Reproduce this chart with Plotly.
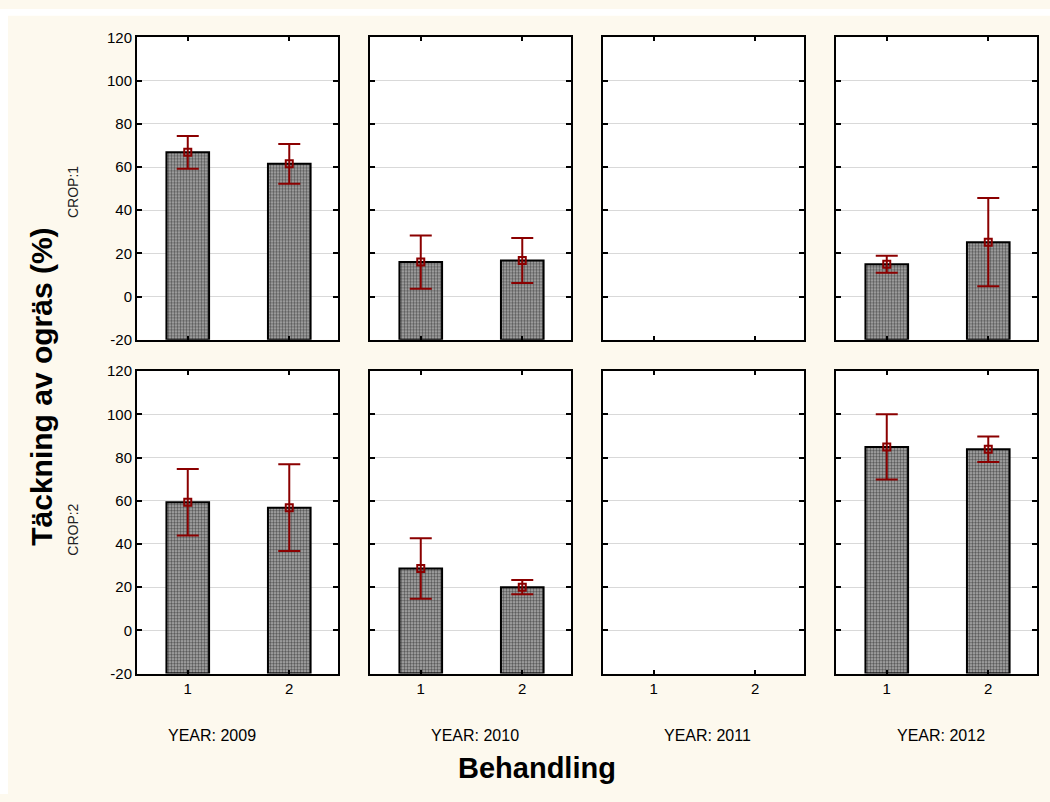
import plotly.graph_objects as go

# ---- data ----
years = ["2009", "2010", "2011", "2012"]
treatments = [1, 2]
tick_labels = ["1", "2"]
y_ticks = [-20, 0, 20, 40, 60, 80, 100, 120]
y_tick_labels = ["-20", "0", "20", "40", "60", "80", "100", "120"]
crop_labels = ["CROP:1", "CROP:2"]

crop1_means = [[66.8, 61.5], [16.0, 16.7], [], [15.0, 25.2]]
crop1_errs = [[7.6, 9.2], [12.3, 10.4], [], [3.9, 20.4]]
crop2_means = [[59.3, 56.8], [28.7, 20.0], [], [84.9, 83.8]]
crop2_errs = [[15.4, 20.1], [14.0, 3.3], [], [15.1, 5.9]]

Y_MIN, Y_MAX = -20, 120

W, H = 1050, 802
col_px = [(137, 338), (370, 571), (603, 804), (836, 1037)]
row_px = [(29, 338), (370, 679)]
year_label_x = [212, 475, 707, 941]

ERR_COLOR = "#8B0000"
FONT = "Liberation Sans, Arial, Helvetica, sans-serif"

fig = go.Figure()

means_rows = [crop1_means, crop2_means]
errs_rows = [crop1_errs, crop2_errs]

idx = 0
for r in range(2):
    for c in range(4):
        idx += 1
        xa = "x" if idx == 1 else f"x{idx}"
        ya = "y" if idx == 1 else f"y{idx}"
        means = means_rows[r][c]
        errs = errs_rows[r][c]
        if means:
            fig.add_trace(go.Bar(
                x=treatments, y=[m - Y_MIN for m in means], base=Y_MIN,
                width=0.42,
                marker=dict(color="#9a9a9a",
                            line=dict(color="black", width=2),
                            pattern=dict(shape=".", fgcolor="black", bgcolor="#b0b0b0",
                                         size=3, solidity=0.5)),
                xaxis=xa, yaxis=ya, showlegend=False, hoverinfo="skip"))
            fig.add_trace(go.Scatter(
                x=treatments, y=means, mode="markers",
                marker=dict(symbol="square-open", size=7, color=ERR_COLOR,
                            line=dict(width=2, color=ERR_COLOR)),
                error_y=dict(type="data", array=errs, visible=True,
                             color=ERR_COLOR, thickness=2, width=11),
                xaxis=xa, yaxis=ya, showlegend=False, hoverinfo="skip"))
        else:
            fig.add_trace(go.Scatter(x=[None], y=[None], xaxis=xa, yaxis=ya,
                                     showlegend=False, hoverinfo="skip"))

        x0, x1 = col_px[c]
        y0, y1 = row_px[r]
        xkey = "xaxis" if idx == 1 else f"xaxis{idx}"
        ykey = "yaxis" if idx == 1 else f"yaxis{idx}"
        fig.layout[xkey] = dict(
            domain=[x0 / W, x1 / W], anchor=ya, range=[0.5, 2.48],
            tickvals=treatments, ticktext=tick_labels,
            showticklabels=(r == 1), ticks="inside", ticklen=4, tickwidth=1.5,
            tickcolor="black", showline=True, linecolor="black", linewidth=2,
            mirror="ticks", showgrid=False, zeroline=False,
            tickfont=dict(family=FONT, size=15, color="black"),
        )
        fig.layout[ykey] = dict(
            domain=[1 - y1 / H, 1 - y0 / H], anchor=xa, range=[Y_MIN, Y_MAX],
            tickvals=y_ticks, ticktext=y_tick_labels,
            showticklabels=(c == 0), ticks="inside", ticklen=5,
            tickwidth=1.5, tickcolor="black", showline=True, linecolor="black",
            linewidth=2, mirror="ticks", showgrid=True, gridcolor="#d9d9d9",
            gridwidth=1, zeroline=False,
            tickfont=dict(family=FONT, size=15, color="black"),
        )

annotations = []
for c, yr in enumerate(years):
    annotations.append(dict(
        text=f"YEAR: {yr}", x=year_label_x[c] / W, y=1 - 742 / H,
        xref="paper", yref="paper", showarrow=False, xanchor="center", yanchor="middle",
        font=dict(family=FONT, size=16, color="black")))
crop_y = [187, 532]
for r, lab in enumerate(crop_labels):
    annotations.append(dict(
        text=lab, x=73 / W, y=1 - crop_y[r] / H, xref="paper", yref="paper",
        showarrow=False, textangle=-90, xanchor="center", yanchor="middle",
        font=dict(family=FONT, size=14, color="#222222")))
annotations.append(dict(
    text="<b>Täckning av ogräs (%)</b>", x=42 / W, y=1 - 386 / H,
    xref="paper", yref="paper", showarrow=False, textangle=-90,
    xanchor="center", yanchor="middle",
    font=dict(family=FONT, size=30, color="black")))
annotations.append(dict(
    text="<b>Behandling</b>", x=537 / W, y=1 - 775 / H,
    xref="paper", yref="paper", showarrow=False, xanchor="center", yanchor="middle",
    font=dict(family=FONT, size=29, color="black")))

fig.update_layout(
    width=W, height=H, margin=dict(l=0, r=0, t=0, b=0),
    paper_bgcolor="#FDF9EE", plot_bgcolor="white",
    barmode="overlay", showlegend=False,
    annotations=annotations,
    shapes=[
        dict(type="rect", xref="paper", yref="paper", x0=0, x1=8 / W, y0=0, y1=1,
             fillcolor="white", line=dict(width=0), layer="below"),
        dict(type="rect", xref="paper", yref="paper", x0=0, x1=1, y0=1 - 7 / H, y1=1,
             fillcolor="white", line=dict(width=0), layer="below"),
    ],
)

fig.write_html("out.html")
